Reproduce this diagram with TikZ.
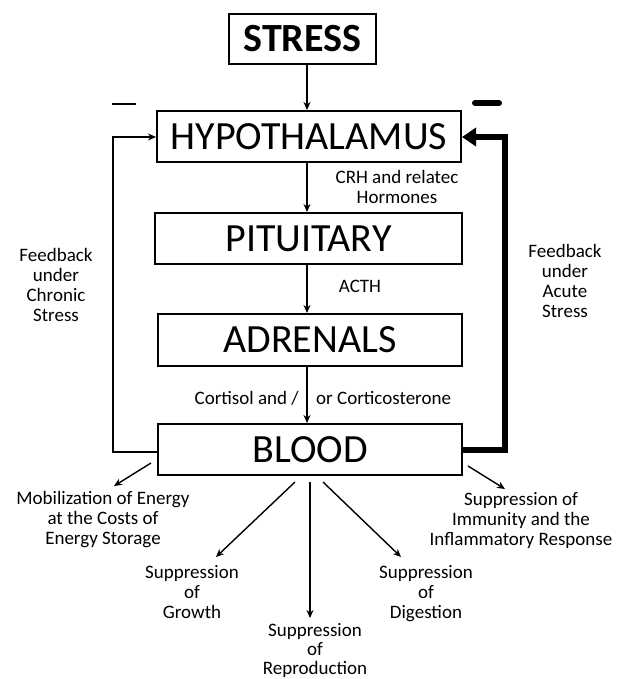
\documentclass[tikz,border=0pt]{standalone}
\usepackage{fontspec}
\setmainfont{Carlito}
\usetikzlibrary{arrows.meta}
\begin{document}
\begin{tikzpicture}[x=1pt,y=-1pt,
  box/.style={draw, line width=2pt, inner sep=0pt, font=\fontsize{40}{44}\selectfont},
  lbl/.style={inner sep=0pt, align=center, font=\fontsize{19}{20}\selectfont},
  arr/.style={line width=1.4pt, -{Stealth[length=8pt,width=7pt]}},
  thickfb/.style={line width=6pt, line join=miter, -{Triangle[length=14pt,width=18pt]}}
]
\useasboundingbox (0,0) rectangle (622,679);
% boxes
\node[box, minimum width=147pt, minimum height=50pt] (stress) at (302.5,39) {\bfseries STRESS};
\node[box, minimum width=304pt, minimum height=51pt] (hyp) at (309,136.5) {HYPOTHALAMUS};
\node[box, minimum width=307pt, minimum height=51pt] (pit) at (308.5,238.5) {PITUITARY};
\node[box, minimum width=304pt, minimum height=52pt] (adr) at (310,340) {ADRENALS};
\node[box, minimum width=304pt, minimum height=51pt] (blood) at (310,449.5) {BLOOD};
% main chain
\coordinate (cx) at (307,0);
\draw[arr] (stress.south -| cx) -- (hyp.north -| cx);
\draw[arr] (hyp.south -| cx) -- (pit.north -| cx);
\draw[arr] (pit.south -| cx) -- (adr.north -| cx);
\draw[arr] (adr.south -| cx) -- (blood.north -| cx);
% labels on chain
\node[lbl] (crh) at (397,186.5) {CRH and relatec\\Hormones};
\node[lbl] (acth) at (360,286) {ACTH};
\node[lbl, anchor=east] (cort1) at (299,398) {Cortisol and /};
\node[lbl, anchor=west] (cort2) at (316,398) {or Corticosterone};
% feedback loops
\coordinate (lb) at (113,452);
\coordinate (lt) at (113,137);
\draw[arr] (blood.west |- lb) -- (lb) -- (lt) -- (hyp.west |- lt);
\coordinate (rb) at (505,450);
\coordinate (rt) at (505,137);
\draw[thickfb] (blood.east |- rb) -- (rb) -- (rt) -- (hyp.east |- rt);
\node[lbl] (fbc) at (56,284.5) {Feedback\\under\\Chronic\\Stress};
\node[lbl] (fba) at (565,281) {Feedback\\under\\Acute\\Stress};
% minus signs
\draw[line width=2pt] (112,104) -- (136,104);
\draw[line width=6pt, line cap=round] (475,103) -- (499,103);
% outputs
\node[lbl] (mob) at (103,519.5) {Mobilization of Energy\\at the Costs of\\Energy Storage};
\node[lbl] (gro) at (192,592.5) {Suppression\\of\\Growth};
\node[lbl, font=\fontsize{19}{19}\selectfont] (rep) at (315,650) {Suppression\\of\\Reproduction};
\node[lbl] (dig) at (426,594) {Suppression\\of\\Digestion};
\node[lbl] (imm) at (521,520) {Suppression of\\Immunity and the\\Inflammatory Response};
\coordinate (m1) at (151,463); \coordinate (m2) at (114,486);
\coordinate (g1) at (295,482); \coordinate (g2) at (216,557);
\coordinate (r1) at (310,482); \coordinate (r2) at (310,618);
\coordinate (d1) at (323,482); \coordinate (d2) at (401,557);
\coordinate (i1) at (468,466); \coordinate (i2) at (505,489);
\draw[arr] (m1) -- (m2);
\draw[arr] (g1) -- (g2);
\draw[arr] (r1) -- (r2);
\draw[arr] (d1) -- (d2);
\draw[arr] (i1) -- (i2);
\end{tikzpicture}
\end{document}
